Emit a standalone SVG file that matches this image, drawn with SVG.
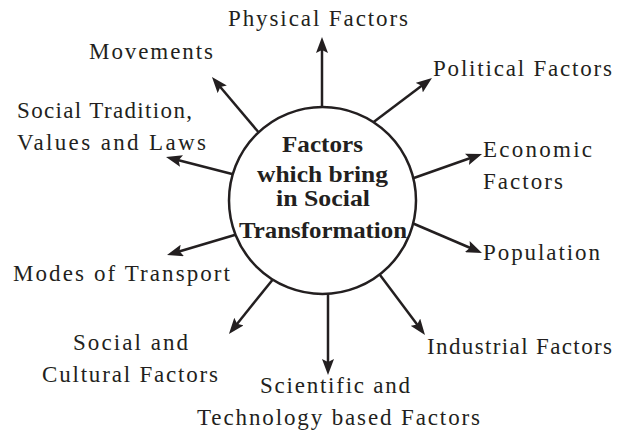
<svg xmlns="http://www.w3.org/2000/svg" width="623" height="433" viewBox="0 0 623 433">
<style>
.lbl{font-family:"Liberation Serif","Times New Roman",serif;font-size:23px;fill:#231f20}
.ctr{font-family:"Liberation Serif","Times New Roman",serif;font-size:24px;font-weight:bold;fill:#231f20;text-anchor:middle}
.ln{stroke:#231f20;stroke-width:2.5;fill:none;marker-end:url(#ah)}
</style>
<defs>
<marker id="ah" markerUnits="userSpaceOnUse" viewBox="0 0 16 12" markerWidth="16" markerHeight="12" refX="6" refY="6" orient="auto">
<path d="M0,0 L16,6 L0,12 L3,6 Z" fill="#231f20"/>
</marker>
</defs>
<rect width="623" height="433" fill="#ffffff"/>
<g id="connectors">
<line class="ln" x1="322" y1="110" x2="322" y2="47"/>
<line class="ln" x1="371" y1="124" x2="424" y2="84"/>
<line class="ln" x1="260" y1="134" x2="218.4" y2="84.7"/>
<line class="ln" x1="236" y1="175" x2="175.7" y2="159.5"/>
<line class="ln" x1="411" y1="179" x2="472.6" y2="157.3"/>
<line class="ln" x1="412" y1="223" x2="472.8" y2="249"/>
<line class="ln" x1="238" y1="234" x2="176.6" y2="252.2"/>
<line class="ln" x1="274" y1="278" x2="235.2" y2="326.2"/>
<line class="ln" x1="328" y1="291" x2="328" y2="365"/>
<line class="ln" x1="380" y1="275" x2="419" y2="327"/>
</g>
<g id="center">
<circle cx="322.5" cy="200.5" r="93.5" fill="#ffffff" stroke="#231f20" stroke-width="2.5"/>
<text class="ctr" x="322.5" y="152" textLength="81" lengthAdjust="spacingAndGlyphs">Factors</text>
<text class="ctr" x="322.5" y="182" textLength="131" lengthAdjust="spacingAndGlyphs">which bring</text>
<text class="ctr" x="323" y="206" textLength="94" lengthAdjust="spacingAndGlyphs">in Social</text>
<text class="ctr" x="323" y="238" textLength="168" lengthAdjust="spacingAndGlyphs">Transformation</text>
</g>
<g id="physical"><text class="lbl" x="228" y="26" textLength="180" lengthAdjust="spacing">Physical Factors</text></g>
<g id="movements"><text class="lbl" x="89" y="59" textLength="124" lengthAdjust="spacing">Movements</text></g>
<g id="political"><text class="lbl" x="433" y="76" textLength="179" lengthAdjust="spacing">Political Factors</text></g>
<g id="tradition">
<text class="lbl" x="17" y="118" textLength="175" lengthAdjust="spacing">Social Tradition,</text>
<text class="lbl" x="17" y="150" textLength="189" lengthAdjust="spacing">Values and Laws</text>
</g>
<g id="economic">
<text class="lbl" x="483" y="157" textLength="109" lengthAdjust="spacing">Economic</text>
<text class="lbl" x="483" y="189" textLength="80" lengthAdjust="spacing">Factors</text>
</g>
<g id="population"><text class="lbl" x="483" y="260" textLength="117" lengthAdjust="spacing">Population</text></g>
<g id="transport"><text class="lbl" x="13" y="281" textLength="217" lengthAdjust="spacing">Modes of Transport</text></g>
<g id="cultural">
<text class="lbl" x="73" y="350" textLength="115" lengthAdjust="spacing">Social and</text>
<text class="lbl" x="42" y="382" textLength="176" lengthAdjust="spacing">Cultural Factors</text>
</g>
<g id="scientific">
<text class="lbl" x="260" y="393" textLength="150" lengthAdjust="spacing">Scientific and</text>
<text class="lbl" x="197" y="425" textLength="283" lengthAdjust="spacing">Technology based Factors</text>
</g>
<g id="industrial"><text class="lbl" x="427" y="354" textLength="185" lengthAdjust="spacing">Industrial Factors</text></g>
</svg>
